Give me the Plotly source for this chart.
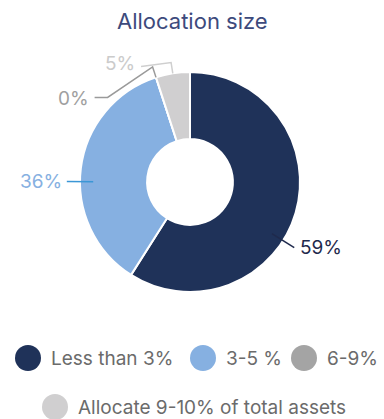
import math
import plotly.graph_objects as go

# ---- data ----
categories = ["Less than 3%", "3-5 %", "6-9%", "Allocate 9-10% of total assets"]
values = [59, 36, 0, 5]
label_texts = ["59%", "36%", "0%", "5%"]

# ---- style ----
colors = ["#1f3259", "#86b0e1", "#a4a4a4", "#d0cfd0"]
label_colors = ["#1f2a4d", "#86b0e1", "#a0a0a0", "#cbcbcb"]
line_colors = ["#1f2a4d", "#3b97d6", "#9a9a9a", "#cfcfcf"]
label_angle_shift = [16, -7, 0, 0]  # degrees, visual label-line adjustment
FONT = "Inter, Roboto, Arial, sans-serif"

W, H = 384, 419
CX, CY, R = 190, 182, 110
HOLE = 0.39


def px(x):
    return x / W


def py(y):
    return 1 - y / H


def polar(bearing_deg, rad):
    a = math.radians(bearing_deg)
    return CX + rad * math.sin(a), CY - rad * math.cos(a)


fig = go.Figure()
fig.add_trace(go.Pie(
    labels=categories, values=values, sort=False, direction="clockwise",
    rotation=0, hole=HOLE, textinfo="none", hoverinfo="label+percent",
    marker=dict(colors=colors, line=dict(color="white", width=2)),
    domain=dict(x=[px(CX - R), px(CX + R)], y=[py(CY + R), py(CY - R)]),
    showlegend=False,
))

shapes = []
annotations = []

total = sum(values)
cum = 0
mids = []
for v in values:
    mids.append((cum + v / 2) / total * 360)
    cum += v

# small-label stacking
prev_small_y = None
order = sorted(range(len(values)), key=lambda i: -mids[i])
for i in order:
    frac = values[i] / total
    mid = mids[i] + label_angle_shift[i]
    if frac >= 0.1:
        x0, y0 = polar(mid, R * 0.88)
        x1, y1 = polar(mid, R * 1.12)
        path = f"M {px(x0)} {py(y0)} L {px(x1)} {py(y1)}"
        right = x1 > CX
        tx = x1 + 4 if right else x1 - 3
        ty = y1
        anchor = "left" if right else "right"
    else:
        x0, y0 = polar(mid, R * 1.0)
        x1, y1 = polar(mid, R * 1.1)
        ty = y1
        if prev_small_y is not None and abs(ty - prev_small_y) < 30:
            ty = prev_small_y + 35
        prev_small_y = ty
        if ty == y1:
            x2, y2 = x1 - 30, y1 + 4
            pts = [(x0, y0), (x1, y1), (x2, y2)]
            tx = x2 - 4
        else:
            x2, y2 = x1 - 45, ty
            x3, y3 = x2 - 13, ty
            pts = [(x0, y0), (x1, y1), (x2, y2), (x3, y3)]
            tx = x3 - 4
        path = "M " + " L ".join(f"{px(a)} {py(b)}" for a, b in pts)
        ty = ty + 1 if ty != y1 else y1 + 1
        anchor = "right"
    shapes.append(dict(type="path", path=path, xref="paper", yref="paper",
                       line=dict(color=line_colors[i], width=1.5)))
    annotations.append(dict(text=label_texts[i], x=px(tx), y=py(ty),
                            xref="paper", yref="paper", xanchor=anchor,
                            yanchor="middle", showarrow=False,
                            font=dict(family=FONT, size=19, color=label_colors[i])))

# title
annotations.append(dict(text="Allocation size", x=0.5, y=py(21), xref="paper",
                        yref="paper", xanchor="center", yanchor="middle",
                        showarrow=False,
                        font=dict(family=FONT, size=22, color="#3d4a7c")))

# manual legend (circle markers)
legend_pos = [(28, 358), (203, 358), (304, 358), (55, 407)]
for i, cat in enumerate(categories):
    lx, ly = legend_pos[i]
    shapes.append(dict(type="circle", xref="paper", yref="paper",
                       xsizemode="pixel", ysizemode="pixel",
                       xanchor=px(lx), yanchor=py(ly),
                       x0=-13, x1=13, y0=-13, y1=13,
                       fillcolor=colors[i], line=dict(width=0)))
    annotations.append(dict(text=cat, x=px(lx + 21), y=py(ly), xref="paper",
                            yref="paper", xanchor="left", yanchor="middle",
                            showarrow=False,
                            font=dict(family=FONT, size=19, color="#6b6b6b")))

fig.update_layout(
    width=W, height=H, margin=dict(l=0, r=0, t=0, b=0),
    paper_bgcolor="white", plot_bgcolor="white",
    shapes=shapes, annotations=annotations, showlegend=False,
)

fig.write_html(
    "out.html",
    config={"displayModeBar": False},
    post_script="document.body.style.margin='0';document.body.style.overflow='hidden';",
)
